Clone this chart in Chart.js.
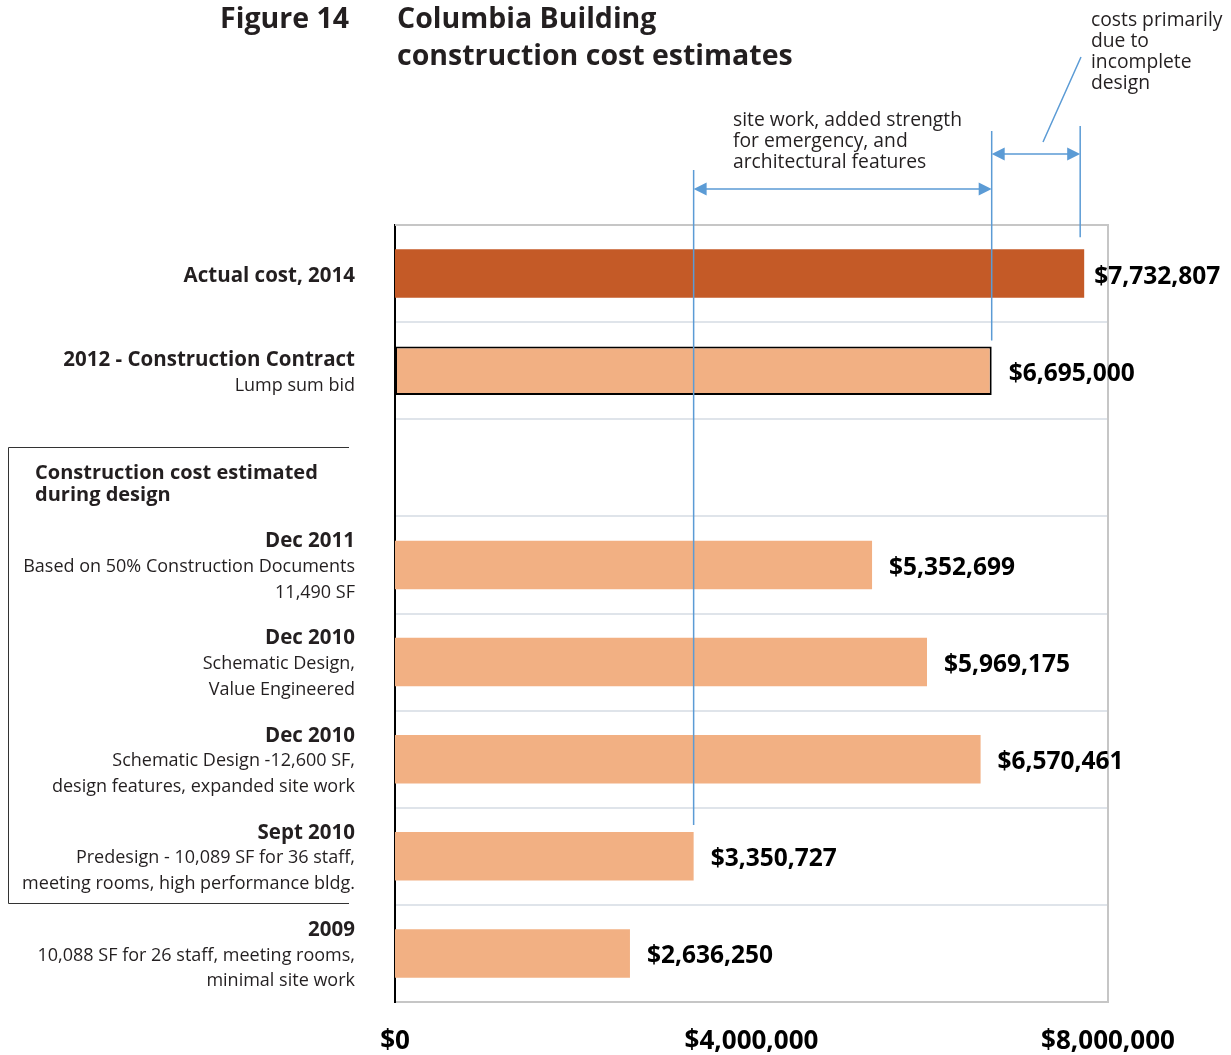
<!DOCTYPE html>
<html>
<head>
<meta charset="utf-8">
<script src="https://cdn.jsdelivr.net/npm/chart.js@4.4.1/dist/chart.umd.min.js"></script>
<style>
  html, body { margin: 0; padding: 0; background: #fff; }
</style>
</head>
<body>
<canvas id="costChart" width="1231" height="1055"></canvas>
<script>
// --- Data ---
const rowTitles = ['Actual cost, 2014', '2012 - Construction Contract', '', 'Dec 2011', 'Dec 2010', 'Dec 2010', 'Sept 2010', '2009'];
const rowNotes = [
    [],
    ['Lump sum bid'],
    [],
    ['Based on 50% Construction Documents', '11,490 SF'],
    ['Schematic Design,', 'Value Engineered'],
    ['Schematic Design -12,600 SF,', 'design features, expanded site work'],
    ['Predesign - 10,089 SF for 36 staff,', 'meeting rooms, high performance bldg.'],
    ['10,088 SF for 26 staff, meeting rooms,', 'minimal site work']
];
const costs = [7732807, 6695000, null, 5352699, 5969175, 6570461, 3350727, 2636250];
const xTicks = [0, 4000000, 8000000];
const groupTitle = ['Construction cost estimated', 'during design'];
const siteWorkNote = ['site work, added strength', 'for emergency, and', 'architectural features'];
const designNote = ['costs primarily', 'due to', 'incomplete', 'design'];

const FONT = '"Open Sans", sans-serif';
const INK = '#231f20';
const BLUE = '#5b9bd5';

const money = v => '$' + Number(v).toLocaleString('en-US');

// filled arrow head, dir = -1 points left, 1 points right
function arrowHead(ctx, x, y, dir) {
    ctx.beginPath();
    ctx.moveTo(x, y);
    ctx.lineTo(x - dir * 13, y - 6.5);
    ctx.lineTo(x - dir * 13, y + 6.5);
    ctx.closePath();
    ctx.fill();
}

const decorations = {
    id: 'decorations',
    afterDatasetsDraw(chart) {
        const ctx = chart.ctx;
        const xs = chart.scales.x;
        const ys = chart.scales.y;
        const area = chart.chartArea;
        const bars = chart.getDatasetMeta(0).data;

        ctx.save();

        // --- frame (top / right) ---
        ctx.strokeStyle = '#c6c6c6';
        ctx.lineWidth = 2;
        ctx.beginPath();
        ctx.moveTo(area.left, area.top);
        ctx.lineTo(area.right, area.top);
        ctx.lineTo(area.right, area.bottom);
        ctx.stroke();

        // --- titles ---
        ctx.fillStyle = INK;
        ctx.textBaseline = 'middle';
        ctx.font = 'bold 28.5px ' + FONT;
        ctx.textAlign = 'right';
        ctx.fillText('Figure 14', 349, 20);
        ctx.textAlign = 'left';
        ctx.fillText('Columbia Building', 397, 20);
        ctx.fillText('construction cost estimates', 397, 57);

        // --- row labels ---
        ctx.textAlign = 'right';
        rowTitles.forEach((title, i) => {
            if (!title) return;
            const lines = [title].concat(rowNotes[i]);
            const cy = ys.getPixelForValue(i) + 2;
            const step = 25.5;
            let y = cy - (lines.length - 1) * step / 2;
            lines.forEach((txt, k) => {
                ctx.font = (k === 0 ? 'bold 20.5px ' : '18px ') + FONT;
                ctx.fillText(txt, 355, y + (k === 0 && lines.length === 1 ? 1 : 0));
                y += step;
            });
        });

        // --- group box ---
        ctx.strokeStyle = '#333';
        ctx.lineWidth = 1;
        ctx.beginPath();
        ctx.moveTo(349, 447.5);
        ctx.lineTo(8.5, 447.5);
        ctx.lineTo(8.5, 903.5);
        ctx.lineTo(349, 903.5);
        ctx.stroke();
        ctx.textAlign = 'left';
        ctx.font = 'bold 20px ' + FONT;
        groupTitle.forEach((txt, k) => ctx.fillText(txt, 35, 473 + k * 22));

        // --- value labels ---
        ctx.fillStyle = '#000';
        ctx.font = 'bold 24.5px ' + FONT;
        costs.forEach((v, i) => {
            if (v == null) return;
            const bar = bars[i];
            ctx.fillText(money(v), bar.x + (i === 0 ? 10 : 17), bar.y + 3);
        });

        // --- annotations ---
        const xLow = xs.getPixelForValue(costs[6]);
        const xBid = xs.getPixelForValue(costs[1]);
        const xActual = xs.getPixelForValue(costs[0]) - 4;
        const topOf = i => bars[i].y - bars[i].height / 2;

        ctx.strokeStyle = BLUE;
        ctx.fillStyle = BLUE;
        ctx.lineWidth = 1.5;
        ctx.beginPath();
        ctx.moveTo(xLow, 170); ctx.lineTo(xLow, topOf(6) - 7);
        ctx.moveTo(xBid, 131); ctx.lineTo(xBid, topOf(1) - 6);
        ctx.moveTo(xActual, 126); ctx.lineTo(xActual, topOf(0) - 12);
        ctx.moveTo(xLow + 6, 189); ctx.lineTo(xBid - 6, 189);
        ctx.moveTo(xBid + 6, 154); ctx.lineTo(xActual - 6, 154);
        ctx.moveTo(1081, 57); ctx.lineTo(1043, 142);
        ctx.stroke();
        arrowHead(ctx, xLow, 189, -1);
        arrowHead(ctx, xBid, 189, 1);
        arrowHead(ctx, xBid, 154, -1);
        arrowHead(ctx, xActual, 154, 1);

        ctx.fillStyle = INK;
        ctx.font = '19.3px ' + FONT;
        siteWorkNote.forEach((txt, k) => ctx.fillText(txt, 733, 121 + k * 21));
        designNote.forEach((txt, k) => ctx.fillText(txt, 1091, 21 + k * 21));

        ctx.restore();
    }
};

new Chart(document.getElementById('costChart'), {
    type: 'bar',
    data: {
        labels: rowTitles,
        datasets: [{
            data: costs,
            backgroundColor: ['#c45a27', '#f2b083', '#f2b083', '#f2b083', '#f2b083', '#f2b083', '#f2b083', '#f2b083'],
            borderColor: ['#c45a27', '#000', '#000', '#f2b083', '#f2b083', '#f2b083', '#f2b083', '#f2b083'],
            borderWidth: [0, 2, 0, 0, 0, 0, 0, 0],
            borderSkipped: false,
            barPercentage: 0.5,
            categoryPercentage: 1
        }]
    },
    options: {
        indexAxis: 'y',
        responsive: false,
        animation: false,
        devicePixelRatio: 1,
        layout: { padding: { left: 395, right: 123, top: 225, bottom: 0 } },
        plugins: {
            legend: { display: false },
            tooltip: { enabled: false }
        },
        scales: {
            x: {
                min: 0,
                max: 8000000,
                afterBuildTicks: axis => { axis.ticks = xTicks.map(v => ({ value: v })); },
                afterFit: axis => { axis.height = 53; },
                grid: { display: false, drawTicks: false },
                border: { color: '#c6c6c6', width: 2 },
                ticks: {
                    padding: 24,
                    maxRotation: 0,
                    autoSkip: false,
                    color: '#000',
                    font: { family: FONT, size: 26, weight: 'bold' },
                    callback: v => money(v)
                }
            },
            y: {
                offset: true,
                grid: { offset: true, color: '#dfe4ea', lineWidth: 2, drawTicks: false },
                border: { color: '#000', width: 2 },
                ticks: { display: false }
            }
        }
    },
    plugins: [decorations]
});
</script>
</body>
</html>
